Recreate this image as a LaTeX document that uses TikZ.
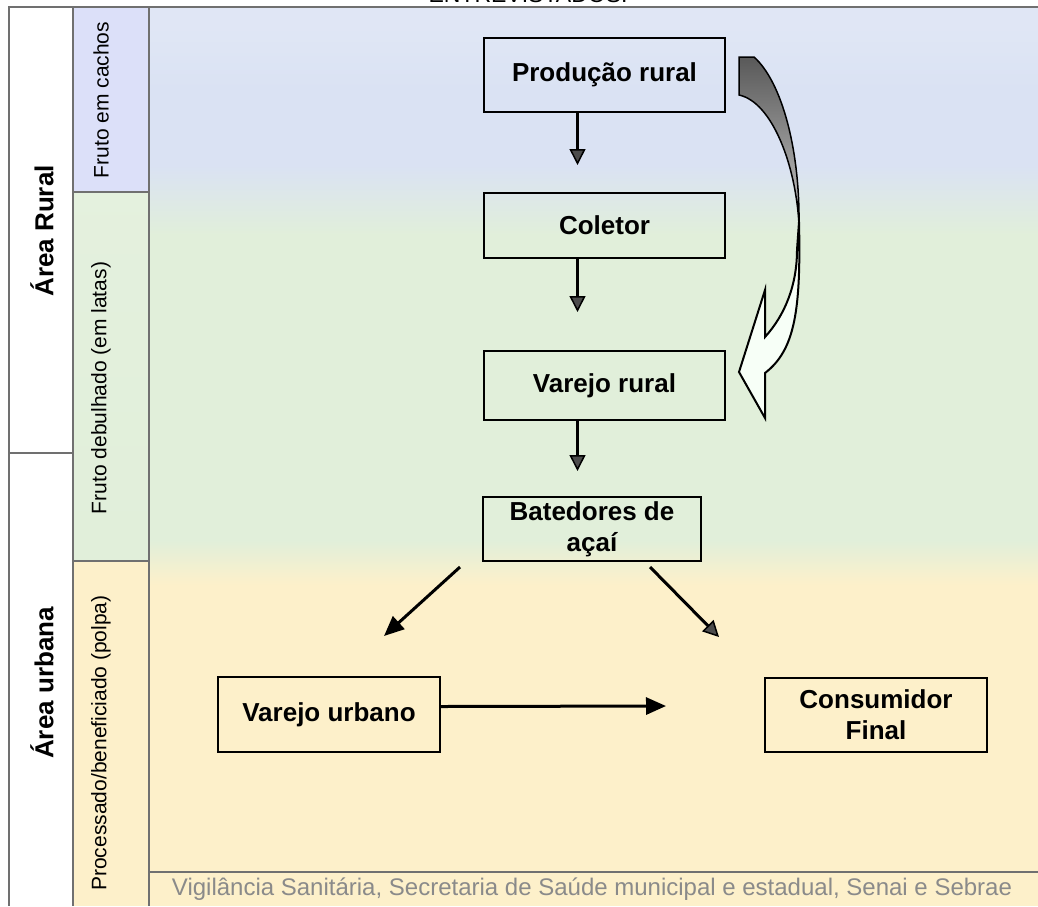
\documentclass[tikz,border=0pt]{standalone}
\usepackage{fontspec}
\setmainfont{Liberation Sans}
\usetikzlibrary{arrows.meta, calc}

\definecolor{skyband}{HTML}{DAE2F3}
\definecolor{leafband}{HTML}{E1EFDA}
\definecolor{cornband}{HTML}{FDF0CA}
\definecolor{framegray}{HTML}{707070}
\definecolor{notegray}{HTML}{8A8A8A}

\begin{document}
\begin{tikzpicture}[
    x=1pt, y=-1pt,
    box/.style={draw, line width=2pt, align=center, inner sep=0pt,
                minimum width=241pt, font=\fontsize{26}{31}\selectfont\bfseries},
    band/.style={rotate=90, font=\fontsize{21}{24}\selectfont},
    area/.style={rotate=90, font=\fontsize{26}{30}\selectfont\bfseries},
    frame/.style={draw=framegray, line width=2pt},
    ar/.style={-{Triangle[length=16pt, width=16pt, line width=1.5pt, fill=black!70]},
               line width=3.5pt},
    arsolid/.style={-{Triangle[length=20pt, width=17pt]}, line width=3pt},
    twist/.style={draw=black, line width=1.5pt},
]
\useasboundingbox (0,0) rectangle (1038,906);
\clip (0,0) rectangle (1038,906);
\fill[white] (0,0) rectangle (1038,906);

% main area bands
\fill[skyband!85!white] (149,7) rectangle (1038,30);
\shade[top color=skyband!85!white, bottom color=skyband] (149,30) rectangle (1038,90);
\fill[skyband] (149,90) rectangle (1038,165);
\shade[top color=skyband, bottom color=leafband] (149,165) rectangle (1038,235);
\fill[leafband] (149,235) rectangle (1038,540);
\shade[top color=leafband, bottom color=cornband] (149,540) rectangle (1038,585);
\fill[cornband] (149,585) rectangle (1038,906);

% product column
\fill[skyband!90!blue!60!white] (73,7) rectangle (149,192);
\shade[top color=leafband!90!white, bottom color=leafband] (73,192) rectangle (149,561);
\fill[cornband] (73,561) rectangle (149,906);

\node[anchor=base, font=\fontsize{23}{26}\selectfont] (head) at (528,2.5) {ENTREVISTADOS.};

% grid
\draw[frame] (8,7) -- (1038,7);
\draw[frame] (9,7) -- (9,906);
\draw[frame] (73,7) -- (73,906);
\draw[frame] (149,7) -- (149,906);
\draw[frame] (9,453) -- (73,453);
\draw[frame] (73,192) -- (149,192);
\draw[frame] (73,561) -- (149,561);
\draw[frame] (149,872) -- (1038,872);

\node[area] (rural) at (42,231) {Área Rural};
\node[area] (urbana) at (42,683) {Área urbana};
\node[band] (cachos) at (101,100) {Fruto em cachos};
\node[band] (latas) at (101,388) {Fruto debulhado (em latas)};
\node[band] (polpa) at (101,743) {Processado/beneficiado (polpa)};

\node[font=\fontsize{24}{26}\selectfont, text=notegray] (note) at (592,889)
    {Vigilância Sanitária, Secretaria de Saúde municipal e estadual, Senai e Sebrae};

% chain
\node[box, minimum height=74pt] (prod) at (604.5,75) {Produção rural};
\node[box, minimum height=65pt] (col) at (604.5,225.5) {Coletor};
\node[box, minimum height=69pt] (vr) at (604.5,385.5) {Varejo rural};
\node[box, minimum width=218pt, minimum height=64pt] (bat) at (592,529) {Batedores de\\açaí};
\node[box, minimum width=222pt, minimum height=75pt] (vu) at (329,714.5) {Varejo urbano};
\node[box, minimum width=222pt, minimum height=74pt] (cf) at (876,715) {Consumidor\\Final};

\draw[ar, shorten >=27pt] ([xshift=-27pt]prod.south) -- ([xshift=-27pt]col.north);
\draw[ar, shorten >=38pt] ([xshift=-27pt]col.south) -- ([xshift=-27pt]vr.north);
\draw[ar, shorten >=25pt] ([xshift=-27pt]vr.south) -- ([xshift=-14.5pt]bat.north);
\draw[arsolid] ($(bat.south west)+(-22,5)$) -- ($(vu.north)+(55,-40)$);
\draw[ar, line width=3pt] ($(bat.south)+(58,5)$) -- ($(cf.north)+(-157,-40)$);
\draw[arsolid] ($(vu.east)+(0,-8)$) -- ($(cf.west)+(-98,-9)$);

% twisted arrow from production straight to rural retail
\coordinate (ta) at ($(prod.east)+(13,-18)$);
\coordinate (tb) at ($(prod.east)+(13,20)$);
\coordinate (tip) at ($(vr.east)+(13,-13.5)$);
\filldraw[twist, top color=gray!70!black, bottom color=gray!45]
  (ta) -- ++(15,0) .. controls (782,82) and (800,150) .. (799,225)
  .. controls (796,165) and (772,102) .. (tb) -- cycle;
\filldraw[twist, fill=green!3!white, line width=2pt]
  (799,222) .. controls (801,310) and (795,350) .. (765,373)
  -- (765,418) -- (tip) -- (765,290) -- (765,337)
  .. controls (785,315) and (797,285) .. (797,250) -- cycle;
\end{tikzpicture}
\end{document}
